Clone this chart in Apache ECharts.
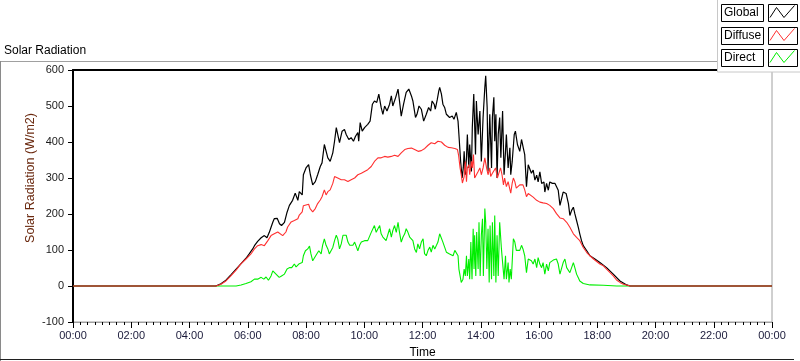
<!DOCTYPE html>
<html>
<head>
<meta charset="utf-8">
<script src="https://cdn.jsdelivr.net/npm/echarts@6/dist/echarts.min.js"></script>
<style>
  html, body { margin: 0; padding: 0; background: #fff; }
  #chart { width: 800px; height: 361px; }
</style>
</head>
<body>
<div id="chart"></div>
<script>
// 数据：时间(小时) + 辐射值 W/m2，从图上读出来的
const seriesNames = ['Global', 'Diffuse', 'Direct']
const seriesColors = ['#000000', '#ff3030', '#00ee00']

const globalHours = [0, 4.90, 5.08, 5.25, 5.42, 5.60, 5.77, 5.94, 6.05, 6.17, 6.23, 6.34, 6.46, 6.57, 6.66, 6.74, 6.80, 6.86, 6.91, 7.01, 7.09, 7.16, 7.26, 7.35, 7.43, 7.54, 7.63, 7.72, 7.77, 7.87, 7.91, 8.00, 8.09, 8.15, 8.23, 8.32, 8.40, 8.49, 8.55, 8.63, 8.69, 8.75, 8.83, 8.92, 8.98, 9.04, 9.09, 9.15, 9.24, 9.32, 9.38, 9.47, 9.55, 9.63, 9.70, 9.78, 9.81, 9.86, 9.93, 10.01, 10.12, 10.20, 10.28, 10.35, 10.43, 10.50, 10.58, 10.64, 10.70, 10.78, 10.87, 10.93, 10.98, 11.08, 11.16, 11.21, 11.27, 11.35, 11.44, 11.53, 11.62, 11.67, 11.76, 11.81, 11.88, 11.96, 12.04, 12.13, 12.21, 12.28, 12.33, 12.40, 12.44, 12.51, 12.56, 12.59, 12.65, 12.70, 12.76, 12.82, 12.88, 12.93, 13.02, 13.08, 13.16, 13.22, 13.25, 13.31, 13.36, 13.40, 13.43, 13.47, 13.51, 13.54, 13.59, 13.62, 13.68, 13.71, 13.76, 13.82, 13.85, 13.91, 13.97, 14.02, 14.08, 14.14, 14.17, 14.22, 14.25, 14.31, 14.37, 14.40, 14.45, 14.48, 14.52, 14.56, 14.60, 14.65, 14.69, 14.75, 14.80, 14.85, 14.88, 14.94, 15.00, 15.03, 15.08, 15.15, 15.19, 15.26, 15.34, 15.40, 15.46, 15.51, 15.57, 15.63, 15.69, 15.74, 15.80, 15.86, 15.92, 15.97, 16.03, 16.09, 16.17, 16.20, 16.26, 16.32, 16.37, 16.46, 16.55, 16.60, 16.66, 16.72, 16.77, 16.83, 16.93, 17.01, 17.06, 17.12, 17.18, 17.23, 17.29, 17.35, 17.40, 17.46, 17.52, 17.64, 17.75, 17.92, 18.09, 18.32, 18.55, 18.78, 19.01, 19.13, 24]
const globalValues = [0, 0, 6, 16, 31, 47, 62, 77, 89, 103, 112, 124, 134, 140, 134, 149, 163, 177, 187, 188, 173, 168, 177, 205, 224, 238, 258, 238, 262, 253, 309, 328, 337, 309, 281, 290, 309, 332, 342, 393, 398, 356, 346, 370, 402, 440, 441, 398, 430, 435, 421, 407, 412, 402, 416, 426, 402, 454, 430, 440, 449, 458, 505, 514, 510, 533, 496, 477, 500, 486, 505, 528, 500, 524, 547, 514, 472, 505, 538, 547, 528, 514, 468, 477, 500, 491, 458, 477, 496, 486, 514, 505, 491, 519, 542, 552, 533, 505, 496, 477, 472, 468, 472, 463, 482, 458, 421, 346, 300, 328, 374, 309, 356, 421, 328, 393, 318, 440, 533, 365, 514, 421, 486, 346, 468, 552, 584, 496, 318, 477, 328, 468, 524, 402, 477, 300, 421, 468, 356, 486, 309, 374, 421, 328, 384, 309, 346, 421, 430, 393, 374, 407, 384, 365, 276, 337, 336, 313, 322, 294, 308, 289, 317, 285, 289, 261, 285, 266, 289, 285, 285, 280, 266, 224, 229, 261, 257, 229, 196, 210, 219, 201, 182, 163, 145, 126, 112, 98, 84, 75, 65, 51, 33, 14, 3, 0, 0]

const diffuseHours = [0, 4.91, 5.08, 5.25, 5.42, 5.60, 5.77, 5.94, 6.11, 6.23, 6.34, 6.46, 6.57, 6.69, 6.80, 6.91, 7.03, 7.08, 7.20, 7.31, 7.37, 7.49, 7.60, 7.72, 7.77, 7.87, 7.91, 8.00, 8.09, 8.14, 8.23, 8.32, 8.40, 8.49, 8.55, 8.63, 8.69, 8.75, 8.83, 8.92, 8.98, 9.04, 9.09, 9.21, 9.32, 9.44, 9.55, 9.67, 9.78, 9.90, 10.01, 10.12, 10.24, 10.35, 10.47, 10.58, 10.70, 10.81, 10.93, 11.04, 11.16, 11.27, 11.39, 11.50, 11.62, 11.73, 11.85, 11.96, 12.08, 12.19, 12.30, 12.42, 12.53, 12.65, 12.76, 12.88, 12.99, 13.11, 13.20, 13.24, 13.29, 13.33, 13.37, 13.43, 13.47, 13.51, 13.54, 13.59, 13.62, 13.68, 13.71, 13.75, 13.79, 13.85, 13.91, 13.97, 14.02, 14.08, 14.14, 14.20, 14.25, 14.31, 14.34, 14.40, 14.46, 14.51, 14.57, 14.62, 14.68, 14.73, 14.78, 14.82, 14.88, 14.94, 14.99, 15.03, 15.08, 15.12, 15.17, 15.22, 15.28, 15.34, 15.40, 15.45, 15.51, 15.57, 15.63, 15.69, 15.80, 15.92, 16.03, 16.14, 16.26, 16.37, 16.49, 16.60, 16.72, 16.83, 16.95, 17.06, 17.18, 17.29, 17.40, 17.52, 17.64, 17.75, 17.87, 17.98, 18.09, 18.21, 18.32, 18.44, 18.55, 18.67, 18.78, 18.90, 19.01, 19.13, 24]
const diffuseValues = [0, 0, 5, 14, 28, 44, 62, 75, 89, 103, 112, 115, 112, 126, 140, 145, 150, 154, 140, 150, 164, 178, 182, 187, 197, 206, 223, 225, 227, 215, 206, 215, 229, 239, 248, 267, 253, 262, 267, 285, 304, 309, 300, 295, 295, 290, 295, 300, 309, 313, 318, 323, 332, 346, 356, 356, 360, 358, 360, 363, 360, 370, 379, 382, 383, 379, 374, 376, 382, 391, 398, 395, 402, 400, 391, 385, 384, 382, 379, 363, 328, 309, 286, 304, 346, 290, 328, 337, 309, 346, 328, 365, 300, 309, 318, 328, 309, 328, 356, 328, 309, 328, 304, 313, 318, 328, 300, 313, 328, 309, 281, 300, 276, 290, 272, 258, 286, 300, 290, 272, 267, 281, 281, 281, 267, 248, 257, 257, 247, 238, 233, 231, 229, 224, 215, 201, 189, 187, 177, 163, 145, 135, 126, 107, 93, 84, 75, 68, 61, 56, 47, 37, 28, 16, 10, 5, 3, 0, 0]

const directHours = [0, 5.60, 5.77, 5.94, 6.11, 6.23, 6.34, 6.46, 6.55, 6.63, 6.71, 6.80, 6.86, 6.91, 6.97, 7.03, 7.08, 7.16, 7.26, 7.35, 7.43, 7.51, 7.60, 7.66, 7.77, 7.87, 7.91, 7.98, 8.06, 8.12, 8.17, 8.23, 8.29, 8.37, 8.44, 8.52, 8.57, 8.63, 8.69, 8.75, 8.80, 8.86, 8.92, 8.98, 9.04, 9.09, 9.15, 9.21, 9.27, 9.32, 9.38, 9.44, 9.50, 9.55, 9.61, 9.67, 9.72, 9.78, 9.84, 9.90, 9.95, 10.01, 10.07, 10.12, 10.18, 10.24, 10.30, 10.35, 10.41, 10.47, 10.53, 10.58, 10.64, 10.70, 10.75, 10.81, 10.87, 10.93, 10.98, 11.04, 11.10, 11.16, 11.21, 11.27, 11.33, 11.39, 11.44, 11.50, 11.56, 11.62, 11.67, 11.73, 11.79, 11.84, 11.90, 11.96, 12.02, 12.07, 12.13, 12.19, 12.25, 12.30, 12.36, 12.42, 12.48, 12.53, 12.59, 12.65, 12.70, 12.76, 12.82, 12.88, 12.93, 12.99, 13.05, 13.11, 13.16, 13.22, 13.25, 13.30, 13.33, 13.39, 13.43, 13.47, 13.51, 13.54, 13.59, 13.62, 13.66, 13.70, 13.74, 13.77, 13.79, 13.83, 13.86, 13.91, 13.94, 13.98, 14.02, 14.06, 14.09, 14.14, 14.17, 14.21, 14.25, 14.29, 14.32, 14.37, 14.40, 14.45, 14.48, 14.52, 14.56, 14.60, 14.65, 14.71, 14.77, 14.80, 14.85, 14.88, 14.94, 14.97, 15.01, 15.05, 15.09, 15.12, 15.17, 15.22, 15.28, 15.34, 15.40, 15.45, 15.51, 15.57, 15.63, 15.69, 15.74, 15.80, 15.86, 15.92, 15.97, 16.03, 16.09, 16.14, 16.20, 16.26, 16.32, 16.37, 16.43, 16.49, 16.55, 16.60, 16.66, 16.72, 16.77, 16.83, 16.89, 16.95, 17.01, 17.06, 17.12, 17.18, 17.23, 17.29, 17.35, 17.40, 17.52, 17.75, 18.21, 18.67, 24]
const directValues = [0, 0, 3, 7, 12, 19, 19, 24, 19, 25, 16, 28, 42, 44, 33, 28, 24, 28, 33, 47, 51, 51, 61, 53, 62, 65, 84, 98, 103, 111, 89, 70, 75, 89, 98, 89, 113, 131, 113, 103, 89, 93, 107, 126, 141, 131, 103, 117, 141, 136, 141, 122, 113, 117, 113, 122, 126, 98, 113, 122, 117, 126, 122, 126, 131, 149, 154, 168, 149, 159, 168, 145, 136, 141, 126, 122, 159, 136, 154, 168, 149, 177, 149, 122, 136, 145, 159, 149, 136, 131, 126, 103, 93, 117, 103, 122, 131, 90, 84, 99, 108, 94, 113, 103, 113, 122, 145, 141, 122, 108, 94, 99, 89, 94, 84, 99, 94, 84, 47, 24, 10, 19, 47, 28, 84, 28, 75, 19, 122, 19, 159, 47, 141, 28, 150, 47, 177, 28, 141, 187, 28, 215, 177, 47, 159, 10, 168, 19, 177, 28, 196, 10, 141, 28, 177, 103, 47, 19, 84, 19, 65, 10, 47, 19, 84, 131, 122, 99, 103, 99, 113, 103, 84, 37, 75, 70, 70, 61, 75, 51, 79, 61, 51, 65, 33, 61, 42, 65, 70, 72, 77, 75, 61, 33, 37, 65, 75, 51, 47, 37, 51, 65, 51, 33, 23, 14, 7, 3, 2, 0, 0]

// 刻度
const yMin = -100
const yMax = 600
const yStep = 100
const xMin = 0
const xMax = 24
const xStep = 2

const font = 'Liberation Sans'

function zip(hours, values) {
  return hours.map((h, i) => [h, values[i]])
}

const chart = echarts.init(document.getElementById('chart'))

// 图例（文字框 + 折线小图标），自己画
const legendRows = [4, 27, 49]
const legendGraphics = [
  {
    type: 'rect',
    z: 100,
    shape: { x: 717.5, y: -1, width: 90, height: 73 },
    style: { fill: '#fff', stroke: '#c8c8c8', lineWidth: 1 }
  }
]
seriesNames.forEach((name, i) => {
  const top = legendRows[i]
  legendGraphics.push(
    {
      type: 'rect',
      z: 101,
      shape: { x: 721.5, y: top + 0.5, width: 42, height: 17 },
      style: { fill: '#fff', stroke: '#000', lineWidth: 1 }
    },
    {
      type: 'text',
      z: 102,
      x: 724,
      y: top + 9,
      style: { text: name, fill: '#000', font: '12px "' + font + '"', verticalAlign: 'middle' }
    },
    {
      type: 'rect',
      z: 101,
      shape: { x: 768.5, y: top + 0.5, width: 29, height: 17 },
      style: { fill: '#fff', stroke: '#000', lineWidth: 1 }
    },
    {
      type: 'polyline',
      z: 102,
      shape: {
        points: [[770, top + 13.5], [776.5, top + 3.5], [784, top + 13.5], [794.5, top + 1.5]]
      },
      style: { stroke: seriesColors[i], lineWidth: 1, fill: null }
    }
  )
})

const options = {
  animation: false,
  title: {
    text: 'Solar Radiation',
    left: 4,
    top: 45,
    padding: 0,
    textStyle: { fontFamily: font, fontSize: 12, fontWeight: 'normal', color: '#000' }
  },
  grid: {
    left: 73,
    top: 70,
    right: 28,
    bottom: 39,
    outerBoundsMode: 'none',
    show: true,
    borderColor: '#a0a0a0',
    borderWidth: 1,
    backgroundColor: '#fff'
  },
  xAxis: [
    {
      type: 'value',
      min: xMin,
      max: xMax,
      interval: xStep,
      name: 'Time',
      nameLocation: 'middle',
      nameGap: 25,
      nameMoveOverlap: false,
      nameTextStyle: { fontFamily: font, fontSize: 12, color: '#000' },
      axisLine: { show: true, onZero: false, lineStyle: { color: '#a0a0a0', width: 1 } },
      axisTick: { show: true, length: 6, lineStyle: { color: '#000' } },
      minorTick: { show: true, splitNumber: 8, length: 3, lineStyle: { color: '#000' } },
      axisLabel: {
        margin: 8,
        fontFamily: font,
        fontSize: 11,
        color: '#1a1a3a',
        formatter: (v) => {
          const h = v % 24
          return (h < 10 ? '0' : '') + h + ':00'
        }
      },
      splitLine: { show: false }
    },
    {
      // 上边框黑线
      type: 'value',
      position: 'top',
      min: xMin,
      max: xMax,
      axisLine: { show: true, onZero: false, lineStyle: { color: '#000', width: 2 } },
      axisTick: { show: false },
      axisLabel: { show: false },
      splitLine: { show: false }
    }
  ],
  yAxis: {
    type: 'value',
    min: yMin,
    max: yMax,
    interval: yStep,
    name: 'Solar Radiation (W/m2)',
    nameLocation: 'middle',
    nameGap: 36,
    nameMoveOverlap: false,
    nameTextStyle: { fontFamily: font, fontSize: 12.5, color: '#6b2a10', padding: [0, 0, 0, 36] },
    axisLine: { show: true, onZero: false, lineStyle: { color: '#000', width: 2 } },
    axisTick: { show: true, length: 5, lineStyle: { color: '#000' } },
    axisLabel: { margin: 9, fontFamily: font, fontSize: 11, color: '#1a1a1a' },
    splitLine: { show: false }
  },
  series: [
    // 画的顺序：Direct 在最下，Diffuse 在最上
    {
      name: seriesNames[2],
      type: 'line',
      showSymbol: false,
      z: 2,
      lineStyle: { color: seriesColors[2], width: 1.1 },
      data: zip(directHours, directValues)
    },
    {
      name: seriesNames[0],
      type: 'line',
      showSymbol: false,
      z: 3,
      lineStyle: { color: seriesColors[0], width: 1.2 },
      data: zip(globalHours, globalValues)
    },
    {
      name: seriesNames[1],
      type: 'line',
      showSymbol: false,
      z: 4,
      lineStyle: { color: seriesColors[1], width: 1.1 },
      data: zip(diffuseHours, diffuseValues)
    }
  ],
  graphic: [
    // 外框
    { type: 'line', z: 50, shape: { x1: 0, y1: 61.5, x2: 718, y2: 61.5 }, style: { stroke: '#a0a0a0', lineWidth: 1 } },
    { type: 'line', z: 50, shape: { x1: 0.5, y1: 61, x2: 0.5, y2: 361 }, style: { stroke: '#8a8a8a', lineWidth: 1 } },
    { type: 'line', z: 50, shape: { x1: 0, y1: 359.5, x2: 794, y2: 359.5 }, style: { stroke: '#202020', lineWidth: 1 } },
    ...legendGraphics
  ]
}

options && chart.setOption(options, true)
</script>
</body>
</html>
